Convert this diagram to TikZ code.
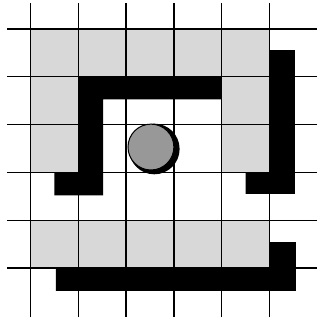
\documentclass[tikz,border=0pt]{standalone}
\usepackage{xcolor}
\usepackage{tikz}
\definecolor{cellGray}{RGB}{216,216,216}
\definecolor{ballGray}{RGB}{152,152,152}

\begin{document}
\begin{tikzpicture}[cell/.style={fill=cellGray},wall/.style={fill=black},gridline/.style={draw=black,line width=0.8pt}]
  \def\gridn{5}
  \def\wallw{0.5}
  \useasboundingbox (-0.638,-1.172) rectangle (6.056,5.607);
  % shaded cells
  \fill[cell] (0,4) rectangle (5,5);
  \fill[cell] (0,2) rectangle (1,4);
  \fill[cell] (4,2) rectangle (5,4);
  \fill[cell] (0,0) rectangle (5,1);
  % grid
  \foreach \k in {0,...,\gridn} {
    \draw[gridline] (\k,-1.03) -- (\k,5.54);
    \draw[gridline] (-0.49,\k) -- (5.99,\k);
  }
  % walls
  \fill[wall] (1,4) -- (4,4) -- (4,3.53) -- (1.52,3.53) -- (1.52,1.52) -- (0.5,1.52) -- (0.5,2) -- (1,2) -- cycle;
  \fill[wall] (5,4.56) -- (5.53,4.56) -- (5.53,1.55) -- (4.5,1.55) -- (4.5,2) -- (5,2) -- cycle;
  \fill[wall] (0.53,0) -- (5,0) -- (5,0.54) -- (5.55,0.54) -- (5.55,-0.48) -- (0.53,-0.48) -- cycle;
  % ball
  \fill[black] (2.59,2.49) circle[radius=0.53];
  \draw[fill=ballGray,line width=0.6pt] (2.52,2.53) circle[radius=0.48];
\end{tikzpicture}
\end{document}
